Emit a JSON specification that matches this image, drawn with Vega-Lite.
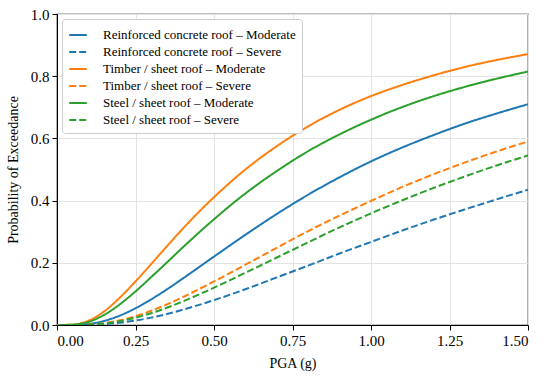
{
  "$schema": "https://vega.github.io/schema/vega-lite/v6.json",
  "autosize": {"type": "none"},
  "padding": {"left": 57, "top": 14, "right": 22, "bottom": 51},
  "width": 471,
  "height": 311,
  "config": {
    "font": "Liberation Serif",
    "view": {"stroke": "#000000", "strokeWidth": 1.2},
    "axis": {
      "labelFont": "Liberation Serif", "titleFont": "Liberation Serif",
      "labelFontSize": 15, "titleFontSize": 14, "titleFontWeight": "normal",
      "labelColor": "#000000", "titleColor": "#000000",
      "domainColor": "#000000", "tickColor": "#000000", "tickSize": 5, "labelPadding": 3,
      "gridColor": "#e3e3e3", "gridWidth": 1
    },
    "legend": {"labelFont": "Liberation Serif", "labelFontSize": 13, "labelColor": "#000000", "labelLimit": 400}
  },
  "datasets": {
    "curves": [
      {"x":0,"p":0,"s":"RCM"},{"x":0.05,"p":0.0002,"s":"RCM"},{"x":0.075,"p":0.0011,"s":"RCM"},{"x":0.1,"p":0.0033,"s":"RCM"},{"x":0.15,"p":0.0131,"s":"RCM"},{"x":0.2,"p":0.0303,"s":"RCM"},{"x":0.25,"p":0.0539,"s":"RCM"},{"x":0.3,"p":0.0825,"s":"RCM"},{"x":0.35,"p":0.1145,"s":"RCM"},{"x":0.4,"p":0.149,"s":"RCM"},{"x":0.5,"p":0.22,"s":"RCM"},{"x":0.6,"p":0.29,"s":"RCM"},{"x":0.7,"p":0.357,"s":"RCM"},{"x":0.8,"p":0.419,"s":"RCM"},{"x":0.9,"p":0.475,"s":"RCM"},{"x":1.0,"p":0.526,"s":"RCM"},{"x":1.1,"p":0.571,"s":"RCM"},{"x":1.2,"p":0.611,"s":"RCM"},{"x":1.3,"p":0.648,"s":"RCM"},{"x":1.4,"p":0.68,"s":"RCM"},{"x":1.5,"p":0.71,"s":"RCM"},
      {"x":0,"p":0,"s":"RCS"},{"x":0.05,"p":0,"s":"RCS"},{"x":0.075,"p":0.0002,"s":"RCS"},{"x":0.1,"p":0.0006,"s":"RCS"},{"x":0.15,"p":0.0028,"s":"RCS"},{"x":0.2,"p":0.0073,"s":"RCS"},{"x":0.25,"p":0.0143,"s":"RCS"},{"x":0.3,"p":0.0237,"s":"RCS"},{"x":0.35,"p":0.0353,"s":"RCS"},{"x":0.4,"p":0.0489,"s":"RCS"},{"x":0.5,"p":0.08,"s":"RCS"},{"x":0.6,"p":0.115,"s":"RCS"},{"x":0.7,"p":0.153,"s":"RCS"},{"x":0.8,"p":0.191,"s":"RCS"},{"x":0.9,"p":0.23,"s":"RCS"},{"x":1.0,"p":0.267,"s":"RCS"},{"x":1.1,"p":0.304,"s":"RCS"},{"x":1.2,"p":0.339,"s":"RCS"},{"x":1.3,"p":0.372,"s":"RCS"},{"x":1.4,"p":0.404,"s":"RCS"},{"x":1.5,"p":0.435,"s":"RCS"},
      {"x":0,"p":0,"s":"TM"},{"x":0.05,"p":0.0011,"s":"TM"},{"x":0.075,"p":0.0052,"s":"TM"},{"x":0.1,"p":0.0136,"s":"TM"},{"x":0.15,"p":0.0437,"s":"TM"},{"x":0.2,"p":0.0879,"s":"TM"},{"x":0.25,"p":0.14,"s":"TM"},{"x":0.3,"p":0.196,"s":"TM"},{"x":0.35,"p":0.253,"s":"TM"},{"x":0.4,"p":0.309,"s":"TM"},{"x":0.5,"p":0.411,"s":"TM"},{"x":0.6,"p":0.5,"s":"TM"},{"x":0.7,"p":0.575,"s":"TM"},{"x":0.8,"p":0.639,"s":"TM"},{"x":0.9,"p":0.692,"s":"TM"},{"x":1.0,"p":0.736,"s":"TM"},{"x":1.1,"p":0.772,"s":"TM"},{"x":1.2,"p":0.803,"s":"TM"},{"x":1.3,"p":0.83,"s":"TM"},{"x":1.4,"p":0.852,"s":"TM"},{"x":1.5,"p":0.871,"s":"TM"},
      {"x":0,"p":0,"s":"TS"},{"x":0.05,"p":0.0001,"s":"TS"},{"x":0.075,"p":0.0004,"s":"TS"},{"x":0.1,"p":0.0014,"s":"TS"},{"x":0.15,"p":0.006,"s":"TS"},{"x":0.2,"p":0.015,"s":"TS"},{"x":0.25,"p":0.0284,"s":"TS"},{"x":0.3,"p":0.0457,"s":"TS"},{"x":0.35,"p":0.0662,"s":"TS"},{"x":0.4,"p":0.0893,"s":"TS"},{"x":0.5,"p":0.14,"s":"TS"},{"x":0.6,"p":0.194,"s":"TS"},{"x":0.7,"p":0.248,"s":"TS"},{"x":0.8,"p":0.302,"s":"TS"},{"x":0.9,"p":0.352,"s":"TS"},{"x":1.0,"p":0.399,"s":"TS"},{"x":1.1,"p":0.444,"s":"TS"},{"x":1.2,"p":0.485,"s":"TS"},{"x":1.3,"p":0.523,"s":"TS"},{"x":1.4,"p":0.558,"s":"TS"},{"x":1.5,"p":0.59,"s":"TS"},
      {"x":0,"p":0,"s":"SM"},{"x":0.05,"p":0.0008,"s":"SM"},{"x":0.075,"p":0.0038,"s":"SM"},{"x":0.1,"p":0.0099,"s":"SM"},{"x":0.15,"p":0.0325,"s":"SM"},{"x":0.2,"p":0.0665,"s":"SM"},{"x":0.25,"p":0.108,"s":"SM"},{"x":0.3,"p":0.154,"s":"SM"},{"x":0.35,"p":0.201,"s":"SM"},{"x":0.4,"p":0.249,"s":"SM"},{"x":0.5,"p":0.34,"s":"SM"},{"x":0.6,"p":0.423,"s":"SM"},{"x":0.7,"p":0.495,"s":"SM"},{"x":0.8,"p":0.559,"s":"SM"},{"x":0.9,"p":0.613,"s":"SM"},{"x":1.0,"p":0.66,"s":"SM"},{"x":1.1,"p":0.701,"s":"SM"},{"x":1.2,"p":0.736,"s":"SM"},{"x":1.3,"p":0.766,"s":"SM"},{"x":1.4,"p":0.792,"s":"SM"},{"x":1.5,"p":0.815,"s":"SM"},
      {"x":0,"p":0,"s":"SS"},{"x":0.05,"p":0.0001,"s":"SS"},{"x":0.075,"p":0.0003,"s":"SS"},{"x":0.1,"p":0.0011,"s":"SS"},{"x":0.15,"p":0.0049,"s":"SS"},{"x":0.2,"p":0.0123,"s":"SS"},{"x":0.25,"p":0.0235,"s":"SS"},{"x":0.3,"p":0.038,"s":"SS"},{"x":0.35,"p":0.0556,"s":"SS"},{"x":0.4,"p":0.0755,"s":"SS"},{"x":0.5,"p":0.12,"s":"SS"},{"x":0.6,"p":0.168,"s":"SS"},{"x":0.7,"p":0.217,"s":"SS"},{"x":0.8,"p":0.266,"s":"SS"},{"x":0.9,"p":0.314,"s":"SS"},{"x":1.0,"p":0.359,"s":"SS"},{"x":1.1,"p":0.401,"s":"SS"},{"x":1.2,"p":0.441,"s":"SS"},{"x":1.3,"p":0.478,"s":"SS"},{"x":1.4,"p":0.513,"s":"SS"},{"x":1.5,"p":0.545,"s":"SS"}
    ],
    "names": [
      {"s":"RCM","label":"Reinforced concrete roof – Moderate"},
      {"s":"RCS","label":"Reinforced concrete roof – Severe"},
      {"s":"TM","label":"Timber / sheet roof – Moderate"},
      {"s":"TS","label":"Timber / sheet roof – Severe"},
      {"s":"SM","label":"Steel / sheet roof – Moderate"},
      {"s":"SS","label":"Steel / sheet roof – Severe"}
    ]
  },
  "data": {"name": "curves"},
  "transform": [
    {"lookup": "s", "from": {"data": {"name": "names"}, "key": "s", "fields": ["label"]}}
  ],
  "mark": {"type": "line", "strokeWidth": 2, "interpolate": "monotone", "clip": true},
  "encoding": {
    "x": {
      "field": "x", "type": "quantitative", "title": "PGA (g)",
      "scale": {"domain": [0, 1.5], "nice": false},
      "axis": {"values": [0, 0.25, 0.5, 0.75, 1.0, 1.25, 1.5], "format": ".2f", "titlePadding": 8}
    },
    "y": {
      "field": "p", "type": "quantitative", "title": "Probability of Exceedance",
      "scale": {"domain": [0, 1], "nice": false},
      "axis": {"values": [0, 0.2, 0.4, 0.6, 0.8, 1.0], "format": ".1f", "titlePadding": 10}
    },
    "color": {
      "field": "label", "type": "nominal", "title": null,
      "scale": {
        "domain": ["Reinforced concrete roof – Moderate", "Reinforced concrete roof – Severe", "Timber / sheet roof – Moderate", "Timber / sheet roof – Severe", "Steel / sheet roof – Moderate", "Steel / sheet roof – Severe"],
        "range": ["#1f77b4", "#1f77b4", "#ff7f0e", "#ff7f0e", "#2ca02c", "#2ca02c"]
      },
      "legend": {
        "orient": "top-left", "offset": 5, "symbolType": "stroke", "symbolStrokeWidth": 2, "symbolSize": 310,
        "labelOffset": 15, "fillColor": "#ffffff", "strokeColor": "#cccccc", "padding": 6, "cornerRadius": 3, "rowPadding": 0
      }
    },
    "strokeDash": {
      "field": "label", "type": "nominal", "title": null,
      "scale": {
        "domain": ["Reinforced concrete roof – Moderate", "Reinforced concrete roof – Severe", "Timber / sheet roof – Moderate", "Timber / sheet roof – Severe", "Steel / sheet roof – Moderate", "Steel / sheet roof – Severe"],
        "range": [[1, 0], [7, 3], [1, 0], [7, 3], [1, 0], [7, 3]]
      }
    }
  }
}
